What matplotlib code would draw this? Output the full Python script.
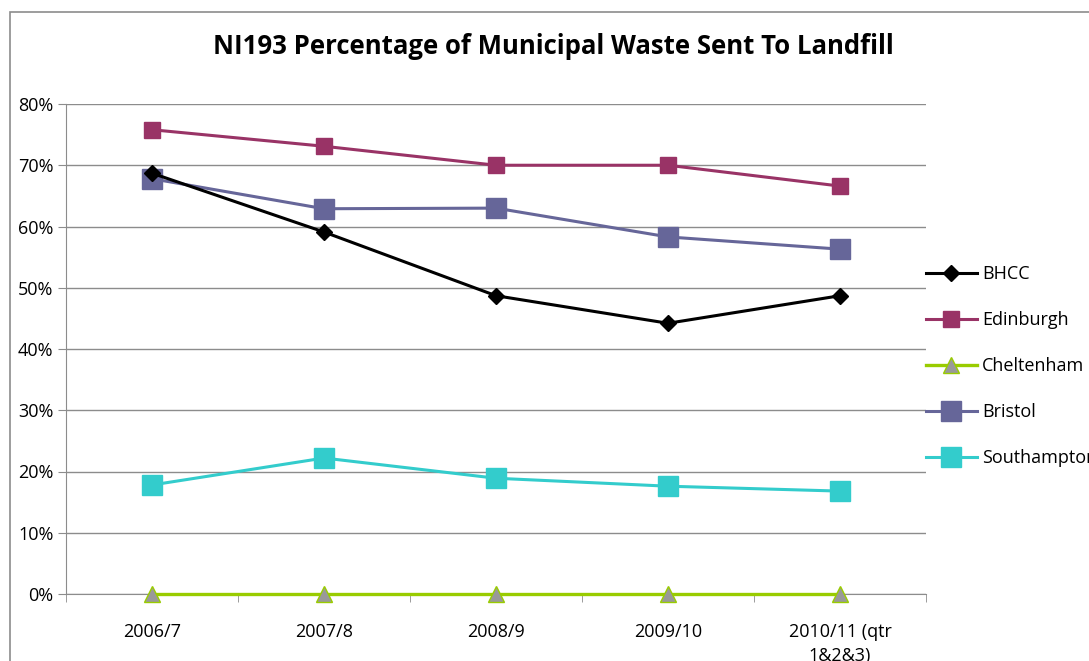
import matplotlib.pyplot as plt
from matplotlib.patches import Rectangle
from matplotlib.ticker import FixedLocator, PercentFormatter

years = ["2006/7", "2007/8", "2008/9", "2009/10", "2010/11 (qtr\n1&2&3)"]
bhcc = [68.7, 59.1, 48.7, 44.2, 48.7]
edinburgh = [75.8, 73.1, 70.0, 70.0, 66.6]
cheltenham = [0, 0, 0, 0, 0]
bristol = [67.8, 62.9, 63.0, 58.3, 56.3]
southampton = [17.8, 22.2, 18.9, 17.6, 16.8]

plt.rcParams['font.family'] = ['Open Sans', 'DejaVu Sans']

fig = plt.figure(figsize=(10.89, 6.61), dpi=100)
# outer chart frame
fig.patches.append(Rectangle((10 / 1089, -0.1), 1.2, 1 - 12 / 661 + 0.1,
                             transform=fig.transFigure, fill=False,
                             edgecolor="#8c8c8c", linewidth=1.2))

ax = fig.add_axes([66 / 1089, 1 - 594 / 661, 860 / 1089, 490 / 661])
x = range(len(years))

ax.plot(x, bhcc, color="black", lw=2.2, marker="D", ms=8.5,
        label="BHCC", zorder=5)
ax.plot(x, edinburgh, color="#993366", lw=2.2, marker="s", ms=11,
        label="Edinburgh", zorder=4)
ax.plot(x, cheltenham, color="#99cc00", lw=2.4, marker="^", ms=11,
        mfc="#999999", mec="#99cc00", mew=1, label="Cheltenham", zorder=4,
        clip_on=False)
ax.plot(x, bristol, color="#666699", lw=2.2, marker="s", ms=15,
        label="Bristol", zorder=3)
ax.plot(x, southampton, color="#33cccc", lw=2.2, marker="s", ms=14,
        label="Southampton", zorder=3)

ax.set_xlim(-0.5, 4.5)
ax.set_ylim(0, 80)
ax.set_yticks(range(0, 81, 10))
ax.yaxis.set_major_formatter(PercentFormatter(decimals=0))
ax.grid(axis="y", color="#8c8c8c", lw=1)
ax.set_axisbelow(True)

ax.set_xticks(list(x))
ax.set_xticklabels(years, fontsize=13, linespacing=1.45)
ax.xaxis.set_minor_locator(FixedLocator([i - 0.5 for i in range(len(years) + 1)]))
ax.tick_params(axis="x", which="major", length=0, pad=21)
ax.tick_params(axis="x", which="minor", length=6, color="#8c8c8c", direction="out")
ax.tick_params(axis="y", length=6, color="#8c8c8c", labelsize=13, pad=3)

for s in ["top", "right"]:
    ax.spines[s].set_visible(False)
for s in ["left", "bottom"]:
    ax.spines[s].set_color("#8c8c8c")

fig.text(553 / 1089, 1 - 47 / 661, "NI193 Percentage of Municipal Waste Sent To Landfill",
         ha="center", va="center", fontsize=18.5, fontweight="bold")

fig.legend(loc="center left", bbox_to_anchor=(926 / 1089, 1 - 366 / 661),
           frameon=False, fontsize=13, handlelength=2.8, handletextpad=0.3,
           labelspacing=1.55, borderpad=0, borderaxespad=0)

fig.savefig("out.png", dpi=100)
